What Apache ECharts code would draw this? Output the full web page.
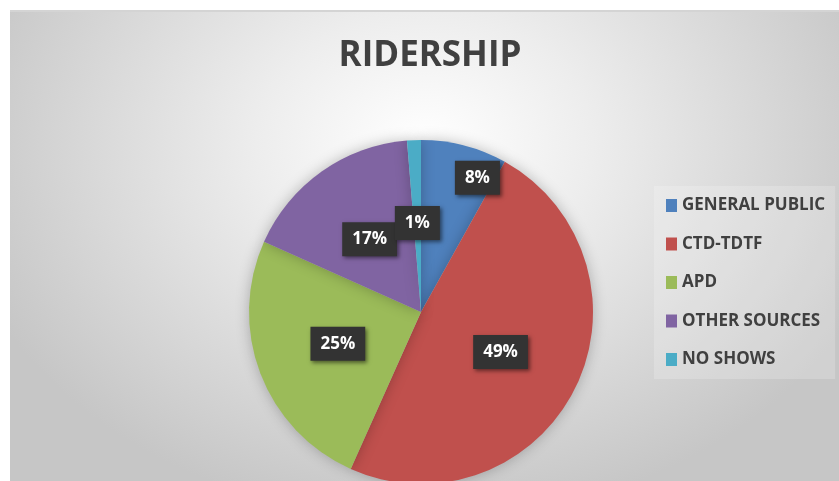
<!DOCTYPE html>
<html>
<head>
<meta charset="utf-8">
<script src="https://cdn.jsdelivr.net/npm/echarts@6/dist/echarts.min.js"></script>
<style>
  html, body { margin: 0; padding: 0; background: #fff; }
  #chart {
    position: absolute; left: 10px; top: 10px; width: 829px; height: 471px;
    border-top: 2px solid #d4d4d4;
    background: radial-gradient(ellipse 58% 80% at 50% 28%, #ffffff 0%, #ededed 35%, #d8d8d8 70%, #c6c6c6 100%);
  }
</style>
</head>
<body>
<div id="chart"></div>
<script>
// == Data ====================================================================
const categories = ['GENERAL PUBLIC', 'CTD-TDTF', 'APD', 'OTHER SOURCES', 'NO SHOWS']
const shares = [8.1, 48.6, 25.0, 17.0, 1.3]
const colors = ['#4F81BD', '#C0504D', '#9BBB59', '#8064A2', '#4BACC6']

const font = '"Open Sans", "DejaVu Sans", sans-serif'

const myChart = echarts.init(document.getElementById('chart'))
myChart.setOption({
  animation: false,
  title: {
    text: 'RIDERSHIP',
    left: 415, top: 22, textAlign: 'center',
    textStyle: { fontFamily: font, fontSize: 35, fontWeight: 'bold', color: '#404040' }
  },
  color: colors,
  legend: {
    orient: 'vertical',
    left: 644, top: 174,
    padding: [11, 10, 11, 12],
    backgroundColor: 'rgba(255,255,255,0.2)',
    itemWidth: 11, itemHeight: 13, itemGap: 21.5, icon: 'rect',
    textStyle: { fontFamily: font, fontSize: 17, fontWeight: 'bold', color: '#404040' },
    data: categories
  },
  series: [{
    type: 'pie',
    center: [411, 300],
    radius: 172,
    startAngle: 90,
    clockwise: true,
    silent: true,
    itemStyle: { shadowBlur: 14, shadowColor: 'rgba(0,0,0,0.25)' },
    label: {
      position: 'inside',
      formatter: p => Math.round(p.percent) + '%',
      fontFamily: font, fontSize: 17, fontWeight: 'bold', color: '#fff',
      backgroundColor: '#333', padding: [9, 10, 8, 10],
      shadowBlur: 4, shadowColor: 'rgba(0,0,0,0.5)', shadowOffsetX: 2, shadowOffsetY: 2
    },
    labelLayout: p => p.dataIndex === 0 ? { dx: 34, dy: -48 } : {},
    data: categories.map((name, i) => ({ name, value: shares[i] }))
  }]
})
</script>
</body>
</html>
